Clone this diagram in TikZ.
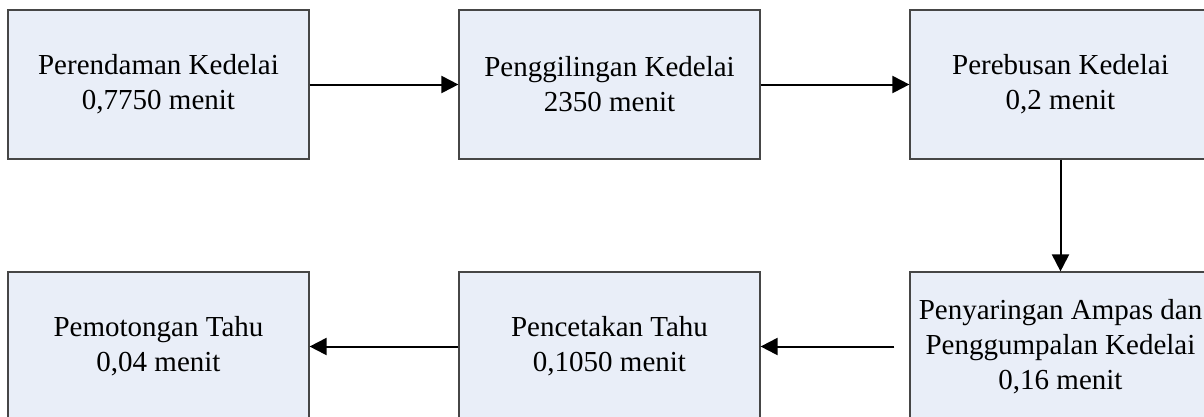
\documentclass[tikz,border=0pt]{standalone}
\usepackage{fontspec}
\setmainfont{Liberation Serif}
\usetikzlibrary{positioning, arrows.meta}
\definecolor{boxfill}{RGB}{233,238,248}
\definecolor{boxline}{RGB}{70,70,70}

\begin{document}
\begin{tikzpicture}[node distance=451pt, on grid,
    proc/.style={draw=boxline, fill=boxfill, line width=1.2pt, minimum width=301pt, minimum height=149pt,
        align=center, font=\fontsize{29pt}{35pt}\selectfont},
    flow/.style={-{Triangle[length=17pt, width=17pt]}, line width=2pt}]
    \useasboundingbox (0,0) rectangle (1204pt,-416pt);
    \node[proc] (rendam) at (158.5pt,-84.5pt) {Perendaman Kedelai\\0,7750 menit};
    \node[proc, right=of rendam] (giling) {Penggilingan Kedelai\\2350 menit};
    \node[proc, right=of giling] (rebus) {Perebusan Kedelai\\0,2 menit};
    \node[proc, below=262pt of rebus] (saring) {Penyaringan Ampas dan\\Penggumpalan Kedelai\\0,16 menit};
    \node[proc, left=of saring] (cetak) {Pencetakan Tahu\\0,1050 menit};
    \node[proc, left=of cetak] (potong) {Pemotongan Tahu\\0,04 menit};

    \draw[flow] (rendam) -- (giling);
    \draw[flow] (giling) -- (rebus);
    \draw[flow] (rebus) -- (saring);
    \draw[flow, shorten <=15pt] (saring) -- (cetak);
    \draw[flow] (cetak) -- (potong);
\end{tikzpicture}
\end{document}
